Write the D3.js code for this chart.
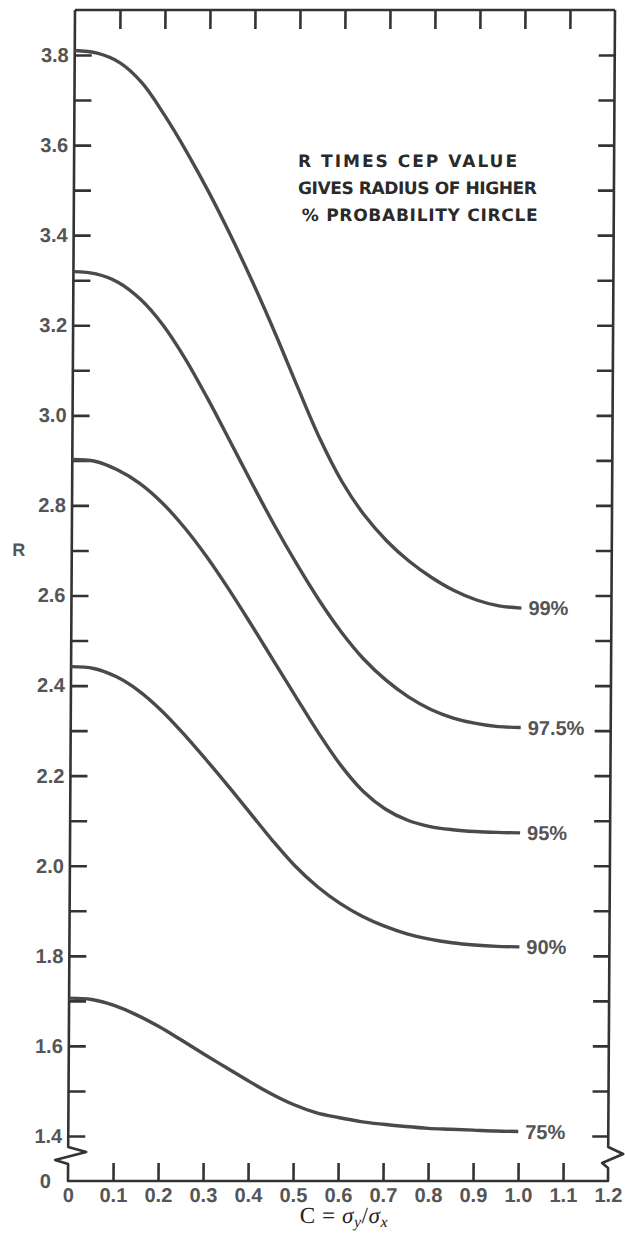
<!DOCTYPE html>
<html><head><meta charset="utf-8">
<script src="https://cdn.jsdelivr.net/npm/d3@7"></script>
<style>body{margin:0;background:#fff} svg{display:block}</style>
</head><body>
<svg id="chart" width="625" height="1234"></svg>
<script>
// ---- data ----
const cValues = [0, 0.05, 0.1, 0.15, 0.2, 0.25, 0.3, 0.35, 0.4, 0.45, 0.5, 0.55, 0.6, 0.65, 0.7, 0.75, 0.8, 0.85, 0.9, 0.95, 1.0];
const r99  = [3.810, 3.804, 3.783, 3.738, 3.667, 3.585, 3.495, 3.397, 3.292, 3.180, 3.062, 2.948, 2.852, 2.778, 2.721, 2.676, 2.640, 2.611, 2.590, 2.577, 2.572];
const r975 = [3.319, 3.314, 3.295, 3.257, 3.200, 3.125, 3.037, 2.943, 2.848, 2.756, 2.670, 2.590, 2.519, 2.459, 2.412, 2.375, 2.347, 2.328, 2.316, 2.309, 2.307];
const r95  = [2.902, 2.898, 2.879, 2.849, 2.806, 2.751, 2.686, 2.613, 2.535, 2.455, 2.375, 2.296, 2.224, 2.166, 2.126, 2.101, 2.087, 2.080, 2.076, 2.074, 2.073];
const r90  = [2.442, 2.438, 2.420, 2.389, 2.346, 2.294, 2.237, 2.178, 2.117, 2.056, 2.000, 1.954, 1.917, 1.888, 1.866, 1.849, 1.837, 1.829, 1.824, 1.821, 1.820];
const r75  = [1.706, 1.703, 1.690, 1.669, 1.643, 1.613, 1.582, 1.552, 1.522, 1.494, 1.470, 1.452, 1.441, 1.432, 1.426, 1.421, 1.417, 1.415, 1.413, 1.411, 1.410];
const seriesNames = ["99%", "97.5%", "95%", "90%", "75%"];
const seriesValues = [r99, r975, r95, r90, r75];
const xTickValues = [0, 0.1, 0.2, 0.3, 0.4, 0.5, 0.6, 0.7, 0.8, 0.9, 1.0, 1.1, 1.2];
const xTickLabels = ["0", "0.1", "0.2", "0.3", "0.4", "0.5", "0.6", "0.7", "0.8", "0.9", "1.0", "1.1", "1.2"];
const yTickValues = [1.4,1.5,1.6,1.7,1.8,1.9,2.0,2.1,2.2,2.3,2.4,2.5,2.6,2.7,2.8,2.9,3.0,3.1,3.2,3.3,3.4,3.5,3.6,3.7,3.8];
const yTickLabels = ["1.4","","1.6","","1.8","","2.0","","2.2","","2.4","","2.6","","2.8","","3.0","","3.2","","3.4","","3.6","","3.8"];
const noteLines = ["R  TIMES  CEP  VALUE", "GIVES RADIUS OF HIGHER", "%  PROBABILITY  CIRCLE"];

// ---- layout ----
const svg = d3.select("#chart");
const yTop = 10, yBottom = 1181;
// the scanned original leans slightly: the top edge sits ~7px right of the bottom edge
const shear = 7 / (yBottom - yTop);
const g = svg.append("g")
  .attr("transform", `matrix(1,0,${-shear},1,${shear * yBottom},0)`);

const x = d3.scaleLinear().domain([0, 1.2]).range([68, 608]);
const y = d3.scaleLinear().domain([1.4, 3.8]).range([1136, 55]);
const axisColor = "#333";
const labelColor = "#555";
const tickFont = "'Liberation Sans', Arial, sans-serif";

// frame with broken-axis marks
const xl = x(0), xr = x(1.2);
g.append("path")
  .attr("d", `M${xl},${yTop} L${xr},${yTop}`)
  .attr("stroke", axisColor).attr("stroke-width", 2.6).attr("fill", "none");
g.append("path")
  .attr("d", `M${xl},${yTop} L${xl},1147 L${xl+18},1152 L${xl-13},1160 L${xl},1164 L${xl},${yBottom} L${xr},${yBottom} L${xr},1168 L${xr-6},1163 L${xr+15},1154 L${xr},1147 L${xr},${yTop}`)
  .attr("stroke", axisColor).attr("stroke-width", 2.6).attr("fill", "none").attr("stroke-linejoin", "round");

function styleAxis(sel) {
  sel.select(".domain").remove();
  sel.selectAll(".tick line").attr("stroke", axisColor).attr("stroke-width", 2.6);
  sel.selectAll(".tick text").attr("fill", labelColor).attr("font-family", tickFont)
    .attr("font-size", 20).attr("font-weight", "bold");
}

// bottom axis
g.append("g").attr("transform", `translate(0,${yBottom})`)
  .call(d3.axisBottom(x).tickValues(xTickValues).tickSize(-18).tickPadding(7)
    .tickFormat((d, i) => xTickLabels[i]))
  .call(styleAxis)
  .call(s => s.selectAll(".tick").filter(d => d === 0 || d === 1.2).select("line").remove());
// top axis
g.append("g").attr("transform", `translate(0,${yTop})`)
  .call(d3.axisTop(x).tickValues(xTickValues.slice(1, -1)).tickSize(-19).tickFormat(""))
  .call(styleAxis);
// left axis
g.append("g").attr("transform", `translate(${xl},0)`)
  .call(d3.axisLeft(y).tickValues(yTickValues).tickSize(-17).tickPadding(6)
    .tickFormat((d, i) => yTickLabels[i]))
  .call(styleAxis);
// right axis
g.append("g").attr("transform", `translate(${xr},0)`)
  .call(d3.axisRight(y).tickValues(yTickValues).tickSize(-16).tickFormat(""))
  .call(styleAxis);

// zero label at the broken origin
g.append("text").attr("x", xl - 17).attr("y", yBottom).attr("dy", "0.35em")
  .attr("text-anchor", "end").attr("fill", labelColor).attr("font-family", tickFont)
  .attr("font-size", 20).attr("font-weight", "bold").text("0");

// axis titles
g.append("text").attr("x", 15).attr("y", 550).attr("dy", "0.35em")
  .attr("text-anchor", "middle").attr("fill", labelColor).attr("font-family", tickFont)
  .attr("font-size", 18).attr("font-weight", "bold").text("R");

const xt = g.append("text").attr("x", 300).attr("y", 1223)
  .attr("font-family", "'Liberation Serif', 'Times New Roman', serif")
  .attr("font-size", 23).attr("letter-spacing", 0.6).attr("fill", "#222");
xt.append("tspan").text("C = ");
xt.append("tspan").attr("font-style", "italic").text("σ");
xt.append("tspan").attr("font-style", "italic").attr("font-size", 16).attr("dy", 4).text("y");
xt.append("tspan").attr("dy", -4).text("/");
xt.append("tspan").attr("font-style", "italic").text("σ");
xt.append("tspan").attr("font-style", "italic").attr("font-size", 16).attr("dy", 4).text("x");

// curves
const line = d3.line()
  .x(d => x(d[0])).y(d => y(d[1]))
  .curve(d3.curveCatmullRom.alpha(0.5));
seriesValues.forEach((vals, i) => {
  const pts = cValues.map((c, j) => [c, vals[j]]);
  g.append("path").datum(pts).attr("d", line)
    .attr("fill", "none").attr("stroke", "#4a4a4a").attr("stroke-width", 3.4);
  g.append("text")
    .attr("x", x(1.0) + 7).attr("y", y(vals[vals.length - 1])).attr("dy", "0.36em")
    .attr("fill", labelColor).attr("font-family", tickFont)
    .attr("font-size", 20).attr("font-weight", "bold").text(seriesNames[i]);
});

// annotation
const noteX = [292, 292, 296], noteY = [167, 194, 221], noteW = [219, 239, 236];
noteLines.forEach((t, i) => {
  g.append("text").attr("x", noteX[i]).attr("y", noteY[i])
    .attr("font-family", "'DejaVu Sans', sans-serif").attr("font-weight", "bold")
    .attr("font-size", 17).attr("fill", "#2a2a2a")
    .attr("textLength", noteW[i]).attr("lengthAdjust", "spacing")
    .text(t);
});
</script>
</body></html>
